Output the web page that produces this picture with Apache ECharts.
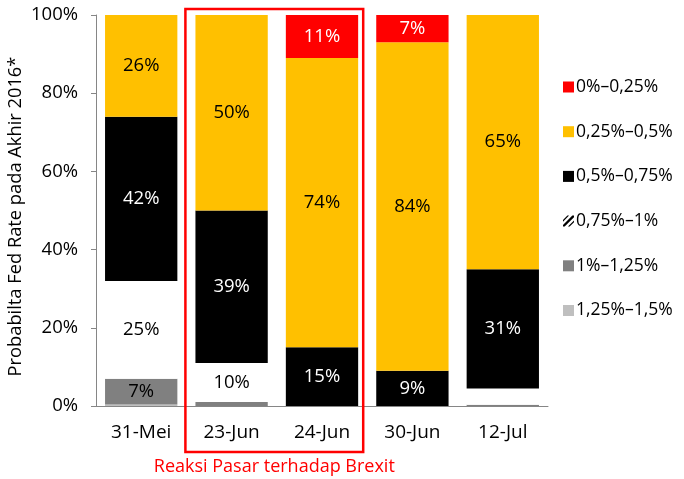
<!DOCTYPE html>
<html><head><meta charset="utf-8">
<script src="https://cdn.jsdelivr.net/npm/echarts@6/dist/echarts.min.js"></script>
<style>html,body{margin:0;padding:0;background:#fff}#c{width:684px;height:479px}</style>
</head><body><div id="c"></div>
<script>
var categories = ['31-Mei','23-Jun','24-Jun','30-Jun','12-Jul'];
var seriesNames = ['1,25%\u20131,5%','1%\u20131,25%','0,75%\u20131%','0,5%\u20130,75%','0,25%\u20130,5%','0%\u20130,25%'];
var s125_150 = [0.4, 0, 0, 0, 0];
var s100_125 = [6.6, 1, 0, 0, 0.3];
var s075_100 = [25, 10, 0, 0, 4.2];
var s050_075 = [42, 39, 15, 9, 30.5];
var s025_050 = [26, 50, 74, 84, 65];
var s000_025 = [0, 0, 11, 7, 0];
var yTicks = ['0%','20%','40%','60%','80%','100%'];
var legendOrder = ['0%\u20130,25%','0,25%\u20130,5%','0,5%\u20130,75%','0,75%\u20131%','1%\u20131,25%','1,25%\u20131,5%'];
var yTitle = 'Probabilta Fed Rate pada Akhir 2016*';
var note = 'Reaksi Pasar terhadap Brexit';

var FONT = 'Open Sans';
var colors = ['#BFBFBF','#808080','#FFFFFF','#000000','#FFC000','#FF0000'];
var labelColors = ['#000','#000','#000','#fff','#000','#fff'];
var datasets = [s125_150, s100_125, s075_100, s050_075, s025_050, s000_025];
var hatch = 'path://M0,4L4,0L5.5,0L0,5.5Z M0,8.5L8.5,0L10,0L10,1.5L1.5,10L0,10Z M4.5,10L10,4.5L10,6L6,10Z M10,10L9.9,10L10,9.9Z M0,0L0.1,0L0,0.1Z';

var chart = echarts.init(document.getElementById('c'), null, {renderer:'canvas'});
var series = datasets.map(function(d, i){
  return {
    name: seriesNames[i], type:'bar', stack:'all', data:d, barWidth:'80%',
    itemStyle:{color:colors[i]},
    label:{show:true, position:'inside', color:labelColors[i], fontFamily:FONT, fontSize:18.5,
      formatter:function(p){ return p.value >= 5 ? Math.round(p.value) + '%' : ''; }}
  };
});
var legendData = legendOrder.map(function(n){
  if (n === '0,75%\u20131%') return {name:n, icon:hatch, itemStyle:{color:'#000'}};
  return {name:n, icon:'rect'};
});
chart.setOption({
  animation:false,
  textStyle:{fontFamily:FONT},
  grid:{left:96, right:136, top:15, bottom:73, containLabel:false, outerBoundsMode:'none'},
  legend:{orient:'vertical', left:558, top:72, itemWidth:11, itemHeight:11, itemGap:24.7,
    data:legendData, selectedMode:false,
    textStyle:{fontFamily:FONT, fontSize:17.5, lineHeight:20, color:'#000', padding:[0,0,0,-3]}},
  xAxis:{type:'category', data:categories,
    axisLine:{lineStyle:{color:'#868686', width:1}}, axisTick:{show:false},
    axisLabel:{color:'#000', fontFamily:FONT, fontSize:19, margin:17}},
  yAxis:{type:'value', min:0, max:100, interval:20,
    axisLine:{show:true, lineStyle:{color:'#868686'}}, axisTick:{show:true, length:5, lineStyle:{color:'#868686'}},
    splitLine:{show:false},
    axisLabel:{color:'#000', fontFamily:FONT, fontSize:18.5, margin:18,
      formatter:function(v){ return yTicks[Math.round(v/20)]; }}},
  series:series
});
var p1 = chart.convertToPixel({xAxisIndex:0}, categories[1]);
var p2 = chart.convertToPixel({xAxisIndex:0}, categories[2]);
var half = (p2 - p1)/2;
var x0 = p1 - half - 1, x1 = p2 + half - 4;
var yTop = chart.convertToPixel({yAxisIndex:0}, 100);
var yBot = chart.convertToPixel({yAxisIndex:0}, 0);
chart.setOption({graphic:[
  {type:'rect', shape:{x:x0, y:9, width:x1-x0, height:443}, style:{fill:'none', stroke:'#FF0000', lineWidth:2.5}, z:100},
  {type:'text', x:(x0+x1)/2, y:467, style:{text:note, fill:'#FF0000', font:'18px '+FONT, align:'center', verticalAlign:'middle'}, z:100},
  {type:'text', x:16, y:(yTop+yBot)/2 + 6, rotation:Math.PI/2, style:{text:yTitle, fill:'#000', font:'18.3px '+FONT, align:'center', verticalAlign:'middle'}, z:100}
]});
</script></body></html>
